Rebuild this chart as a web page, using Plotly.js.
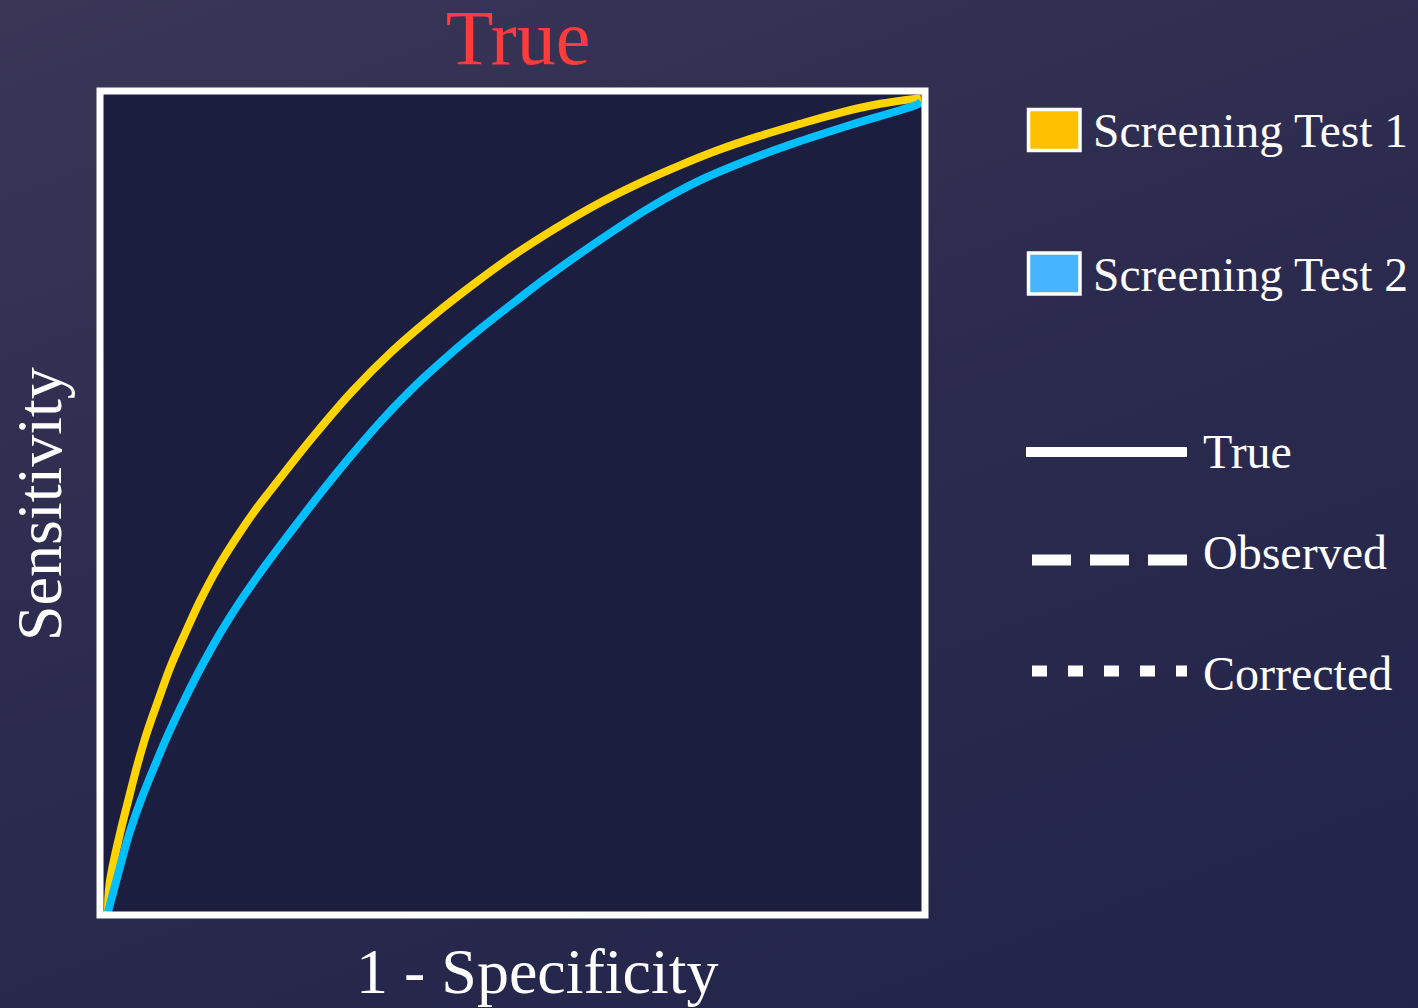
<!DOCTYPE html>
<html>
<head>
<meta charset="utf-8">
<script src="https://cdn.plot.ly/plotly-3.0.1.min.js"></script>
<style>
  html, body { margin: 0; padding: 0; width: 1418px; height: 1008px; overflow: hidden;
    background: linear-gradient(160deg, #3b3656 0%, #2c2b4f 45%, #22244a 100%); }
  #chart { width: 1418px; height: 1008px; }
</style>
</head>
<body>
<div id="chart"></div>
<script>
// ---- data ----
const chartTitle = 'True';
const xTitle = '1 - Specificity';
const yTitle = 'Sensitivity';

const test1Name = 'Screening Test 1';
const test1Fpr = [0, 0.002, 0.015, 0.025, 0.035, 0.0476, 0.062, 0.077, 0.095, 0.114, 0.136, 0.16, 0.18, 0.2, 0.25, 0.30, 0.35, 0.40, 0.45, 0.50, 0.55, 0.60, 0.65, 0.70, 0.75, 0.80, 0.85, 0.90, 0.95, 1.0];
const test1Tpr = [0, 0.035, 0.097, 0.137, 0.176, 0.219, 0.260, 0.301, 0.342, 0.383, 0.424, 0.462, 0.491, 0.517, 0.580, 0.638, 0.688, 0.731, 0.770, 0.806, 0.838, 0.867, 0.892, 0.914, 0.934, 0.951, 0.966, 0.980, 0.991, 0.998];

const test2Name = 'Screening Test 2';
const test2Fpr = [0, 0.004, 0.015, 0.0265, 0.0405, 0.057, 0.0745, 0.094, 0.115, 0.138, 0.164, 0.193, 0.2239, 0.2587, 0.2977, 0.3387, 0.3797, 0.4207, 0.4617, 0.5027, 0.5437, 0.605, 0.667, 0.728, 0.79, 0.851, 0.913, 0.995, 1.0];
const test2Tpr = [0, 0.015, 0.056, 0.097, 0.137, 0.178, 0.219, 0.260, 0.301, 0.342, 0.383, 0.424, 0.465, 0.510, 0.558, 0.605, 0.647, 0.684, 0.718, 0.750, 0.781, 0.824, 0.864, 0.897, 0.923, 0.945, 0.965, 0.990, 0.993];

const swatchLabels = [test1Name, test2Name];
const lineStyleLabels = ['True', 'Observed', 'Corrected'];

// ---- layout helpers ----
const W = 1418, H = 1008;
const M = { l: 100, r: 493, t: 91, b: 93 };
const PW = W - M.l - M.r, PH = H - M.t - M.b;
const fx = px => (px - M.l) / PW;
const fy = py => (H - M.b - py) / PH;

const serif = '"Liberation Serif", "Times New Roman", Times, serif';
const col1 = '#FFD400', col2 = '#00BFFF';
const swatchFill = ['#FFC000', '#47B4FF'];

const traces = [
  { x: test1Fpr, y: test1Tpr, type: 'scatter', mode: 'lines', name: test1Name,
    line: { color: col1, width: 8, shape: 'spline', smoothing: 1 }, hoverinfo: 'skip', showlegend: false },
  { x: test2Fpr, y: test2Tpr, type: 'scatter', mode: 'lines', name: test2Name,
    line: { color: col2, width: 8, shape: 'spline', smoothing: 1 }, hoverinfo: 'skip', showlegend: false }
];

const shapes = [
  // plot frame
  { type: 'rect', xref: 'paper', yref: 'paper', x0: 0, x1: 1, y0: 0, y1: 1,
    line: { color: '#ffffff', width: 7 }, layer: 'above' }
];
const annotations = [
  { text: xTitle, xref: 'paper', yref: 'paper', x: fx(537), y: fy(971), xanchor: 'center', yanchor: 'middle',
    showarrow: false, font: { family: serif, size: 64, color: '#ffffff' } },
  { text: yTitle, xref: 'paper', yref: 'paper', x: fx(40), y: fy(504), xanchor: 'center', yanchor: 'middle',
    textangle: -90, showarrow: false, font: { family: serif, size: 64, color: '#ffffff' } }
];

// colour swatches
const swatchY = [130, 273.5];
swatchLabels.forEach((lab, i) => {
  shapes.push({ type: 'rect', xref: 'paper', yref: 'paper',
    x0: fx(1028.5), x1: fx(1080), y0: fy(swatchY[i] - 20.5), y1: fy(swatchY[i] + 20.5),
    fillcolor: swatchFill[i], line: { color: '#ffffff', width: 3.5 } });
  annotations.push({ text: lab, xref: 'paper', yref: 'paper', x: fx(1091), y: fy(swatchY[i] + 1),
    xanchor: 'left', yanchor: 'middle', showarrow: false,
    font: { family: serif, size: 47.5, color: '#ffffff' } });
});

// line-style samples
const styleY = [452, 560, 671];
const styleTextY = [451, 552, 673];
const styleDash = ['solid', '39px,19px', '15px,21px'];
const styleX0 = [1026, 1032, 1032];
lineStyleLabels.forEach((lab, i) => {
  shapes.push({ type: 'line', xref: 'paper', yref: 'paper',
    x0: fx(styleX0[i]), x1: fx(1187), y0: fy(styleY[i]), y1: fy(styleY[i]),
    line: { color: '#ffffff', width: i === 0 ? 10 : 11, dash: styleDash[i] } });
  annotations.push({ text: lab, xref: 'paper', yref: 'paper', x: fx(1201), y: fy(styleTextY[i]),
    xanchor: 'left', yanchor: 'middle', showarrow: false,
    font: { family: serif, size: 48, color: '#ffffff' } });
});

const layout = {
  width: W, height: H,
  margin: M,
  paper_bgcolor: 'rgba(0,0,0,0)',
  plot_bgcolor: '#1c1e3f',
  showlegend: false,
  title: { text: chartTitle, x: 518 / W, xanchor: 'center', xref: 'container',
    y: 1 - 37 / H, yanchor: 'middle', yref: 'container',
    font: { family: serif, size: 78, color: '#ff3b3b' } },
  xaxis: { range: [-0.0098, 1.005], showgrid: false, zeroline: false, showticklabels: false,
    ticks: '', showline: false, fixedrange: true },
  yaxis: { range: [-0.0037, 1.0067], showgrid: false, zeroline: false, showticklabels: false,
    ticks: '', showline: false, fixedrange: true },
  shapes: shapes,
  annotations: annotations
};

Plotly.newPlot('chart', traces, layout, { displayModeBar: false, staticPlot: true });
</script>
</body>
</html>
